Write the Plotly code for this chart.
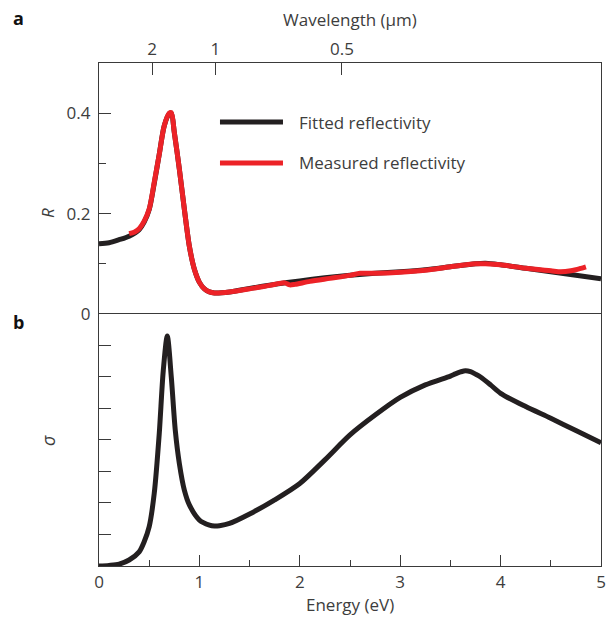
import plotly.graph_objects as go

# ---------------- data ----------------
energy_fit = [0, 0.1, 0.2, 0.3, 0.4, 0.45, 0.5, 0.55, 0.6, 0.65, 0.7, 0.72, 0.75, 0.8,
              0.85, 0.9, 0.95, 1.0, 1.05, 1.1, 1.15, 1.3, 1.5, 1.75, 2.0, 2.25, 2.5,
              2.75, 3.0, 3.25, 3.5, 3.75, 3.85, 4.0, 4.25, 4.5, 4.75, 5.0]
r_fit = [0.140, 0.142, 0.148, 0.155, 0.168, 0.183, 0.208, 0.260, 0.318, 0.375, 0.399,
         0.400, 0.362, 0.289, 0.209, 0.135, 0.089, 0.063, 0.050, 0.044, 0.042, 0.044,
         0.051, 0.059, 0.066, 0.072, 0.077, 0.081, 0.084, 0.088, 0.094, 0.100, 0.101,
         0.098, 0.091, 0.084, 0.077, 0.070]

energy_meas = [0.3, 0.35, 0.4, 0.45, 0.5, 0.55, 0.6, 0.65, 0.7, 0.72, 0.75, 0.8, 0.85,
               0.9, 0.95, 1.0, 1.05, 1.1, 1.15, 1.3, 1.5, 1.7, 1.85, 1.9, 1.95, 2.1,
               2.3, 2.5, 2.6, 2.75, 3.0, 3.25, 3.5, 3.75, 3.85, 4.0, 4.25, 4.5, 4.6,
               4.7, 4.8, 4.85]
r_meas = [0.160, 0.163, 0.170, 0.185, 0.209, 0.262, 0.318, 0.375, 0.400, 0.401, 0.362,
          0.289, 0.209, 0.135, 0.089, 0.063, 0.050, 0.044, 0.042, 0.044, 0.050, 0.057,
          0.062, 0.058, 0.059, 0.065, 0.071, 0.077, 0.081, 0.081, 0.083, 0.087, 0.094,
          0.100, 0.100, 0.098, 0.091, 0.086, 0.084, 0.086, 0.091, 0.094]

energy_sigma = [0, 0.1, 0.2, 0.3, 0.4, 0.45, 0.5, 0.55, 0.6, 0.64, 0.68, 0.72, 0.76,
                0.8, 0.85, 0.9, 1.0, 1.1, 1.15, 1.2, 1.3, 1.5, 1.75, 2.0, 2.25, 2.5,
                2.75, 3.0, 3.25, 3.5, 3.55, 3.6, 3.65, 3.7, 3.75, 3.8, 3.9, 4.0, 4.25,
                4.5, 4.75, 5.0]
sigma = [0.0, 0.02, 0.06, 0.19, 0.45, 0.77, 1.25, 2.3, 4.2, 6.2, 7.3, 6.0, 4.3, 3.26,
         2.41, 1.94, 1.46, 1.30, 1.27, 1.28, 1.35, 1.65, 2.1, 2.62, 3.37, 4.16, 4.79,
         5.35, 5.75, 6.03, 6.1, 6.16, 6.2, 6.17, 6.09, 6.0, 5.75, 5.48, 5.06, 4.69,
         4.3, 3.91]

wavelength_tick_text = ["2", "1", "0.5"]
wavelength_tick_energy = [0.53, 1.16, 2.42]

r_tick_vals = [0, 0.2, 0.4]
r_tick_text = ["0", "0.2", "0.4"]
r_minor_vals = [0.1, 0.3]

legend_names = ["Fitted reflectivity", "Measured reflectivity"]

# ---------------- styles ----------------
BLACK = "#231f20"
RED = "#ec2227"
AX = "#3a3a3a"
TXT = "#3d3d3d"
FONT = "Open Sans"
FS = 17

fig = go.Figure()
fig.add_trace(go.Scatter(x=energy_fit, y=r_fit, mode="lines", xaxis="x", yaxis="y",
                         line=dict(color=BLACK, width=5, shape="spline", smoothing=0.8),
                         name=legend_names[0], showlegend=False))
fig.add_trace(go.Scatter(x=energy_meas, y=r_meas, mode="lines", xaxis="x", yaxis="y",
                         line=dict(color=RED, width=5, shape="spline", smoothing=0.8),
                         name=legend_names[1], showlegend=False))
fig.add_trace(go.Scatter(x=energy_sigma, y=sigma, mode="lines", xaxis="x", yaxis="y2",
                         line=dict(color=BLACK, width=5, shape="spline", smoothing=0.8),
                         showlegend=False))
# invisible trace so the top wavelength axis is rendered
fig.add_trace(go.Scatter(x=[wavelength_tick_energy[0]], y=[r_tick_vals[0]], mode="markers",
                         xaxis="x3", yaxis="y", marker=dict(opacity=0),
                         hoverinfo="skip", showlegend=False))

tickfont = dict(family=FONT, size=FS, color=TXT)

fig.update_layout(
    width=610, height=617,
    margin=dict(l=99, r=9, t=63, b=51, autoexpand=False),
    plot_bgcolor="white", paper_bgcolor="white",
    font=dict(family=FONT, color=TXT),
    xaxis=dict(domain=[0, 1], range=[0, 5], anchor="y2", tick0=0, dtick=1,
               ticks="inside", ticklen=11, tickwidth=1, tickcolor=AX,
               minor=dict(ticks="inside", ticklen=6, dtick=0.5, tickcolor=AX, tickwidth=1),
               showline=True, linecolor=AX, linewidth=1.2, mirror=True,
               showgrid=False, zeroline=False, tickfont=tickfont, automargin=False),
    xaxis3=dict(overlaying="x", side="top", anchor="y", range=[0, 5],
                tickmode="array", tickvals=wavelength_tick_energy,
                ticktext=wavelength_tick_text, ticks="inside", ticklen=12,
                tickcolor=AX, showline=True, linecolor=AX, linewidth=1.2,
                showgrid=False, zeroline=False, tickfont=tickfont, automargin=False),
    yaxis=dict(domain=[0.501, 1], range=[0, 0.5], anchor="x",
               tickmode="array", tickvals=r_tick_vals, ticktext=r_tick_text,
               ticks="inside", ticklen=12, tickcolor=AX,
               minor=dict(ticks="inside", ticklen=7, tickvals=r_minor_vals, tickcolor=AX),
               showline=True, linecolor=AX, linewidth=1.2, mirror=True,
               showgrid=False, zeroline=False, tickfont=tickfont, ticklabelstandoff=4,
               automargin=False),
    yaxis2=dict(domain=[0, 0.501], range=[0, 8], anchor="x", tick0=0, dtick=1,
                ticks="inside", ticklen=12, tickcolor=AX, showticklabels=False,
                showline=True, linecolor=AX, linewidth=1.2, mirror=True,
                showgrid=False, zeroline=False, automargin=False),
)

# legend drawn by hand (long line samples)
leg_y = [0.8827, 0.8012]
leg_col = [BLACK, RED]
for yy, cc, nm in zip(leg_y, leg_col, legend_names):
    fig.add_shape(type="line", xref="paper", yref="paper", x0=0.241, x1=0.3665,
                  y0=yy, y1=yy, line=dict(color=cc, width=5))
    fig.add_annotation(xref="paper", yref="paper", x=0.394, y=yy, text=nm,
                       showarrow=False, xanchor="left", yanchor="middle",
                       font=dict(family=FONT, size=FS, color=TXT))

ann = [
    dict(x=-0.161, y=1.0895, text="<b>a</b>", font=dict(family=FONT, size=18, color="#111")),
    dict(x=-0.161, y=0.485, text="<b>b</b>", font=dict(family=FONT, size=18, color="#111")),
    dict(x=-0.1016, y=0.7018, text="<i>R</i>", textangle=-90,
         font=dict(family=FONT, size=FS, color=TXT)),
    dict(x=-0.1016, y=0.2505, text="<i>σ</i>", textangle=-90,
         font=dict(family=FONT, size=18, color=TXT)),
    dict(x=0.5, y=-0.0775, text="Energy (eV)", font=dict(family=FONT, size=FS, color=TXT)),
    dict(x=0.5, y=1.0855, text="Wavelength (μm)", font=dict(family=FONT, size=FS, color=TXT)),
]
for a in ann:
    fig.add_annotation(xref="paper", yref="paper", showarrow=False,
                       xanchor="center", yanchor="middle", **a)

fig.write_html("out.html", config={"displayModeBar": False},
               post_script="document.body.style.margin='0px';document.body.style.overflow='hidden';")
